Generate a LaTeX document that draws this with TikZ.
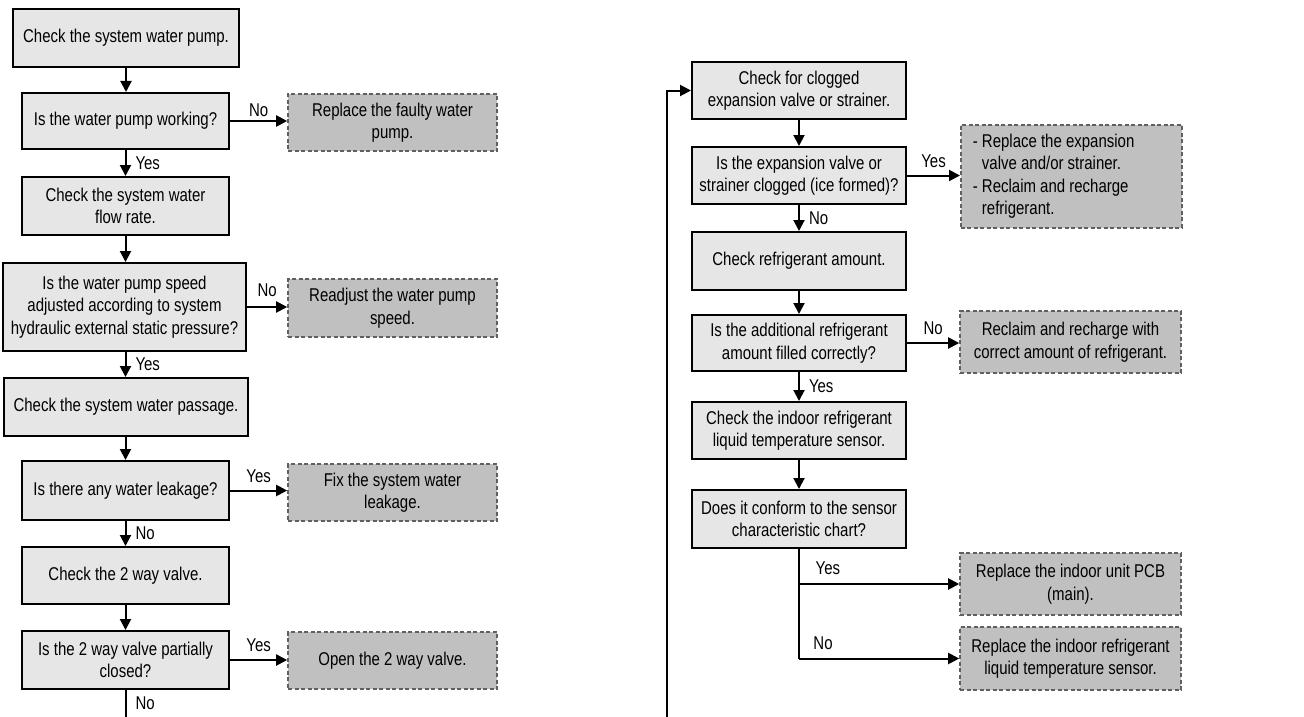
\documentclass[tikz,border=0pt]{standalone}
\usepackage{fontspec}
\setmainfont{Liberation Sans}[FakeStretch=0.81]
\usetikzlibrary{arrows.meta}
\definecolor{boxfill}{HTML}{E6E6E6}
\definecolor{actfill}{HTML}{C0C0C0}
\definecolor{actline}{HTML}{606060}
\tikzset{
  box/.style={draw=black, line width=2pt, fill=boxfill, inner sep=0pt, align=center, font=\fontsize{18.5}{22.5}\selectfont},
  act/.style={draw=actline, line width=1.6pt, dash pattern=on 4pt off 2.5pt, fill=actfill, inner sep=0pt, align=center, font=\fontsize{18.5}{22.5}\selectfont},
  arr/.style={line width=2pt, -{Triangle[length=11pt,width=11pt]}},
  ln/.style={line width=2pt},
  lbl/.style={font=\fontsize{18.5}{22.5}\selectfont, inner sep=1pt}
}
\newcommand\bx[7][box]{\node[#1, minimum width={#5-#3}, minimum height={#6-#4}] (#2) at ({(#3+#5)/2},{(#4+#6)/2}) {#7};}
\begin{document}
\begin{tikzpicture}[x=1pt,y=-1pt]
\useasboundingbox (0,0) rectangle (1304,717);
% left column
\bx{b1}{13}{9}{239}{67}{Check the system water pump.}
\bx{b2}{22}{93}{229}{149}{Is the water pump working?}
\bx{b3}{22}{177}{229}{235}{Check the system water\\flow rate.}
\bx{b4}{3}{263}{246}{351}{Is the water pump speed\\adjusted according to system\\hydraulic external static pressure?}
\bx{b5}{4}{378}{248}{436}{Check the system water passage.}
\bx{b6}{22}{461}{229}{520}{Is there any water leakage?}
\bx{b7}{22}{547}{229}{604}{Check the 2 way valve.}
\bx{b8}{22}{631}{229}{689}{Is the 2 way valve partially\\closed?}
\bx[act]{f1}{288}{94}{497}{151}{Replace the faulty water\\pump.}
\bx[act]{f2}{288}{279}{497}{337}{Readjust the water pump\\speed.}
\bx[act]{f3}{288}{464}{497}{521}{Fix the system water\\leakage.}
\bx[act]{f4}{288}{632}{497}{689}{Open the 2 way valve.}
% right column
\bx{r1}{692}{62}{906}{119}{Check for clogged\\expansion valve or strainer.}
\bx{r2}{692}{147}{906}{204}{Is the expansion valve or\\strainer clogged (ice formed)?}
\bx{r3}{692}{232}{906}{290}{Check refrigerant amount.}
\bx{r4}{692}{315}{906}{371}{Is the additional refrigerant\\amount filled correctly?}
\bx{r5}{692}{402}{906}{459}{Check the indoor refrigerant\\liquid temperature sensor.}
\bx{r6}{692}{490}{906}{548}{Does it conform to the sensor\\characteristic chart?}
\node[act, minimum width=221, minimum height=103, align=flush left, anchor=north west, text width=197, inner xsep=12pt] (g1) at (960,124) {- Replace the expansion\\\phantom{- }valve and/or strainer.\\- Reclaim and recharge\\\phantom{- }refrigerant.};
\bx[act]{g2}{960}{311}{1181}{373}{Reclaim and recharge with\\correct amount of refrigerant.}
\bx[act]{g3}{960}{553}{1181}{615}{Replace the indoor unit PCB\\(main).}
\bx[act]{g4}{960}{627}{1181}{690}{Replace the indoor refrigerant\\liquid temperature sensor.}
\coordinate (c1) at (126,717);
\coordinate (c2) at (667,717);
% left connectors
\draw[arr] (b1.south) -- (b1.south |- b2.north);
\draw[arr] (b2.south) -- node[lbl, right=8pt]{Yes} (b2.south |- b3.north);
\draw[arr] (b3.south) -- (b3.south |- b4.north);
\draw[arr] (b4.south -| b3.south) -- node[lbl, right=8pt]{Yes} (b3.south |- b5.north);
\draw[arr] (b5.south -| b3.south) -- (b3.south |- b6.north);
\draw[arr] (b6.south) -- node[lbl, right=8pt]{No} (b6.south |- b7.north);
\draw[arr] (b7.south) -- (b7.south |- b8.north);
\draw[ln] (b8.south) -- node[lbl, right=8pt]{No} (b8.south |- c1);
\draw[arr] (b2.east) -- node[lbl, above=2pt]{No} (b2.east -| f1.west);
\draw[arr] (b4.east) -- node[lbl, above=8pt]{No} (b4.east -| f2.west);
\draw[arr] (b6.east) -- node[lbl, above=6pt]{Yes} (b6.east -| f3.west);
\draw[arr] (b8.east) -- node[lbl, above=6pt]{Yes} (b8.east -| f4.west);
% loop
\draw[arr] (c2) |- (r1.west);
% right connectors
\draw[arr] (r1.south) -- (r1.south |- r2.north);
\draw[arr] (r2.south) -- node[lbl, right=8pt]{No} (r2.south |- r3.north);
\draw[arr] (r3.south) -- (r3.south |- r4.north);
\draw[arr] (r4.south) -- node[lbl, right=8pt]{Yes} (r4.south |- r5.north);
\draw[arr] (r5.south) -- (r5.south |- r6.north);
\draw[arr] (r2.east) -- node[lbl, above=6pt]{Yes} (r2.east -| g1.west);
\draw[arr] (r4.east) -- node[lbl, above=6pt]{No} (r4.east -| g2.west);
\draw[ln] (r6.south) -- (r6.south |- g4.west);
\draw[arr] (r6.south |- g3.west) -- node[lbl, above=7pt, pos=0.18]{Yes} (g3.west);
\draw[arr] (r6.south |- g4.west) -- node[lbl, above=7pt, pos=0.15]{No} (g4.west);
\end{tikzpicture}
\end{document}
